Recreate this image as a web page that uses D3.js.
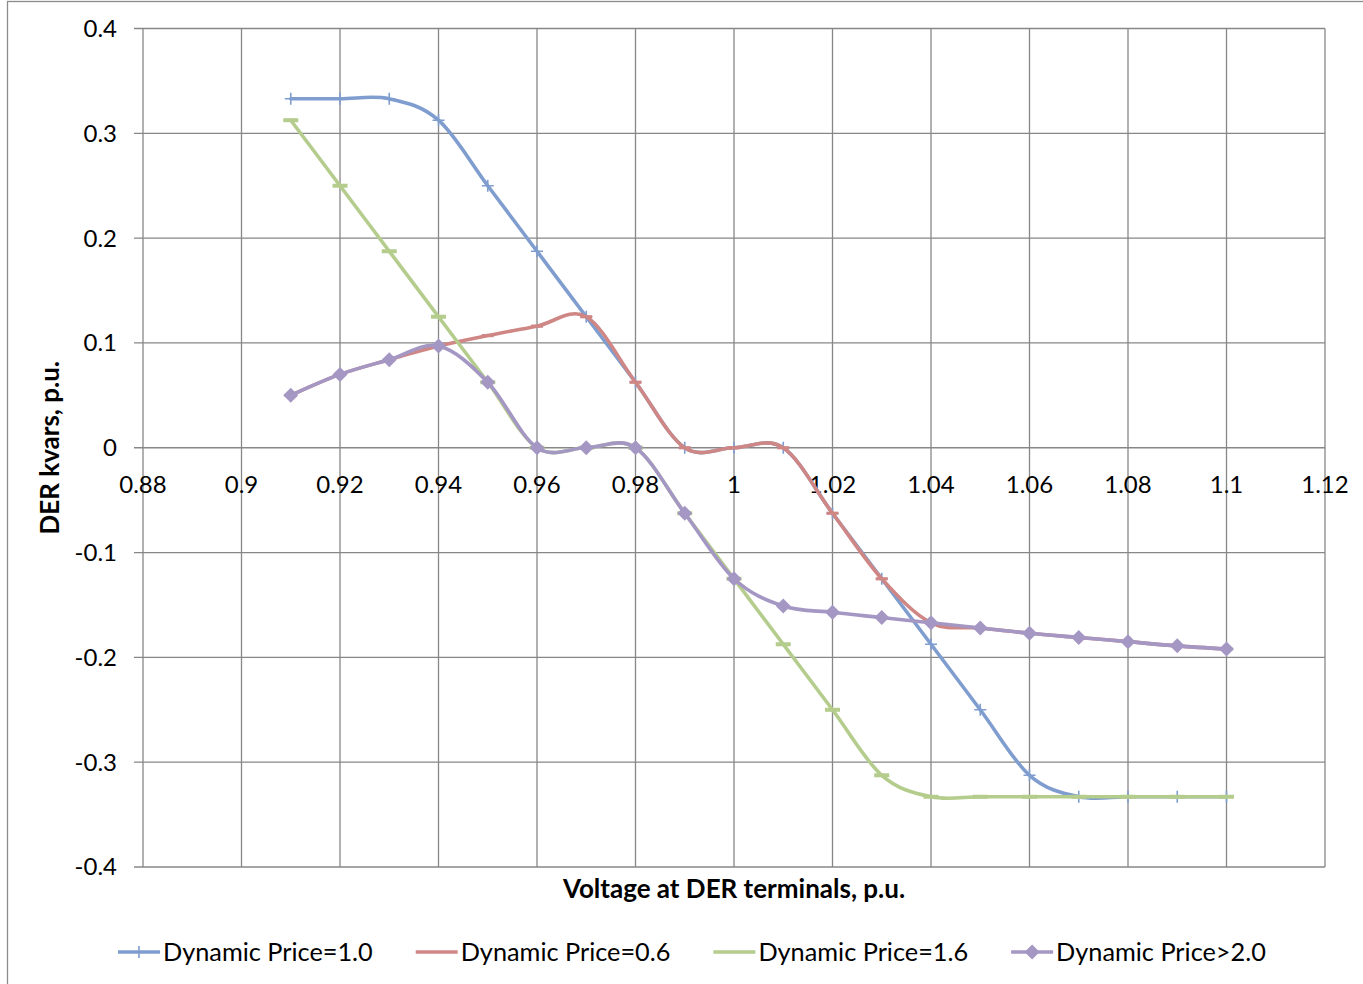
<!DOCTYPE html>
<html>
<head>
<meta charset="utf-8">
<script src="https://cdn.jsdelivr.net/npm/d3@7"></script>
<style>
  html, body { margin: 0; padding: 0; background: #fff; }
  svg text { font-family: Lato, "Open Sans", sans-serif; fill: #000; }
</style>
</head>
<body>
<svg id="chart" width="1363" height="984"></svg>
<script>
// Voltage at DER terminals (p.u.)
const voltage = [0.91, 0.92, 0.93, 0.94, 0.95, 0.96, 0.97, 0.98, 0.99, 1.00,
                 1.01, 1.02, 1.03, 1.04, 1.05, 1.06, 1.07, 1.08, 1.09, 1.10];

// DER reactive power (kvars, p.u.) for each dynamic price level
const price10 = [0.333, 0.333, 0.333, 0.3125, 0.25, 0.1875, 0.125, 0.0625, 0, 0,
                 0, -0.0625, -0.125, -0.1875, -0.25, -0.3125, -0.333, -0.333, -0.333, -0.333];
const price06 = [0.05, 0.07, 0.084, 0.097, 0.107, 0.116, 0.125, 0.0625, 0, 0,
                 0, -0.0625, -0.125, -0.167, -0.172, -0.177, -0.181, -0.185, -0.189, -0.192];
const price16 = [0.3125, 0.25, 0.1875, 0.125, 0.0625, 0, 0, 0, -0.0625, -0.125,
                 -0.1875, -0.25, -0.3125, -0.333, -0.333, -0.333, -0.333, -0.333, -0.333, -0.333];
const price20 = [0.05, 0.07, 0.084, 0.097, 0.0625, 0, 0, 0, -0.0625, -0.125,
                 -0.151, -0.157, -0.162, -0.167, -0.172, -0.177, -0.181, -0.185, -0.189, -0.192];

const seriesNames = ["Dynamic Price=1.0", "Dynamic Price=0.6", "Dynamic Price=1.6", "Dynamic Price>2.0"];

// Axis ticks
const xTicks = [0.88, 0.9, 0.92, 0.94, 0.96, 0.98, 1, 1.02, 1.04, 1.06, 1.08, 1.1, 1.12];
const yTicks = [0.4, 0.3, 0.2, 0.1, 0, -0.1, -0.2, -0.3, -0.4];

const series = [
  { name: seriesNames[0], values: price10, color: "#7f9dce", marker: "plus" },
  { name: seriesNames[1], values: price06, color: "#cf8785", marker: "dash" },
  { name: seriesNames[2], values: price16, color: "#b4cc8c", marker: "wdash" },
  { name: seriesNames[3], values: price20, color: "#a597c3", marker: "diamond" }
];

const svg = d3.select("#chart");
const plot = { left: 143, top: 28.5, right: 1325, bottom: 867 };

const x = d3.scaleLinear().domain([0.88, 1.12]).range([plot.left, plot.right]);
const y = d3.scaleLinear().domain([-0.4, 0.4]).range([plot.bottom, plot.top]);

// plain hyphen-minus labels
const fmt = d => String(d);

// chart frame
svg.append("rect")
  .attr("x", 7.5).attr("y", 1.5).attr("width", 1400).attr("height", 1000)
  .attr("fill", "#fff").attr("stroke", "#8c8c8c").attr("stroke-width", 1.3);

const gridColor = "#878787";

// horizontal gridlines with small ticks left of the value axis
svg.append("g")
  .selectAll("line").data(yTicks).join("line")
  .attr("x1", plot.left - 9).attr("x2", plot.right)
  .attr("y1", d => y(d)).attr("y2", d => y(d))
  .attr("stroke", gridColor).attr("stroke-width", 1.3);

// vertical gridlines
svg.append("g")
  .selectAll("line").data(xTicks).join("line")
  .attr("x1", d => x(d)).attr("x2", d => x(d))
  .attr("y1", plot.top).attr("y2", plot.bottom)
  .attr("stroke", gridColor).attr("stroke-width", 1.3);

// y tick labels
svg.append("g")
  .selectAll("text").data(yTicks).join("text")
  .attr("x", 117).attr("y", d => y(d))
  .attr("dy", "0.35em")
  .attr("text-anchor", "end")
  .attr("font-size", 24)
  .text(fmt);

// x tick labels sit under the zero line
svg.append("g")
  .selectAll("text").data(xTicks).join("text")
  .attr("x", d => x(d)).attr("y", y(0) + 37)
  .attr("dy", "0.35em")
  .attr("text-anchor", "middle")
  .attr("font-size", 24)
  .text(fmt);

// axis titles
svg.append("text")
  .attr("x", (plot.left + plot.right) / 2).attr("y", 889)
  .attr("dy", "0.35em")
  .attr("text-anchor", "middle")
  .attr("font-size", 26).attr("font-weight", "bold")
  .text("Voltage at DER terminals, p.u.");

svg.append("text")
  .attr("transform", `translate(50,${(plot.top + plot.bottom) / 2}) rotate(-90)`)
  .attr("dy", "0.35em")
  .attr("text-anchor", "middle")
  .attr("font-size", 26).attr("font-weight", "bold")
  .text("DER kvars, p.u.");

// marker shapes
function drawMarker(g, type, color, cx, cy) {
  if (type === "plus") {
    g.append("path")
      .attr("d", `M${cx - 6},${cy}H${cx + 6}M${cx},${cy - 6}V${cy + 6}`)
      .attr("stroke", color).attr("stroke-width", 1.6).attr("fill", "none");
  } else if (type === "dash") {
    g.append("rect")
      .attr("x", cx - 6).attr("y", cy - 1.6).attr("width", 12).attr("height", 3.2)
      .attr("fill", color);
  } else if (type === "wdash") {
    g.append("rect")
      .attr("x", cx - 7.5).attr("y", cy - 2).attr("width", 15).attr("height", 4)
      .attr("fill", color);
  } else if (type === "diamond") {
    g.append("path")
      .attr("d", `M${cx},${cy - 7.5}L${cx + 7.5},${cy}L${cx},${cy + 7.5}L${cx - 7.5},${cy}Z`)
      .attr("fill", color);
  }
}

const line = d3.line()
  .x(d => x(d[0]))
  .y(d => y(d[1]))
  .curve(d3.curveCardinal.tension(0));

series.forEach(s => {
  const pts = voltage.map((v, i) => [v, s.values[i]]);
  const g = svg.append("g");
  g.append("path")
    .attr("d", line(pts))
    .attr("fill", "none")
    .attr("stroke", s.color)
    .attr("stroke-width", 3.6)
    .attr("stroke-linejoin", "round")
    .attr("stroke-linecap", "round");
  pts.forEach(p => drawMarker(g, s.marker, s.color, x(p[0]), y(p[1])));
});

// legend
const legendY = 952;
const legend = svg.append("g");
series.forEach((s, i) => {
  const lx = 118 + i * 297.7;
  legend.append("line")
    .attr("x1", lx).attr("x2", lx + 42)
    .attr("y1", legendY).attr("y2", legendY)
    .attr("stroke", s.color).attr("stroke-width", 3.6);
  drawMarker(legend, s.marker === "dash" || s.marker === "wdash" ? "none" : s.marker, s.color, lx + 21, legendY);
  legend.append("text")
    .attr("x", lx + 45).attr("y", legendY)
    .attr("dy", "0.35em")
    .attr("font-size", 25.3)
    .text(s.name);
});
</script>
</body>
</html>
